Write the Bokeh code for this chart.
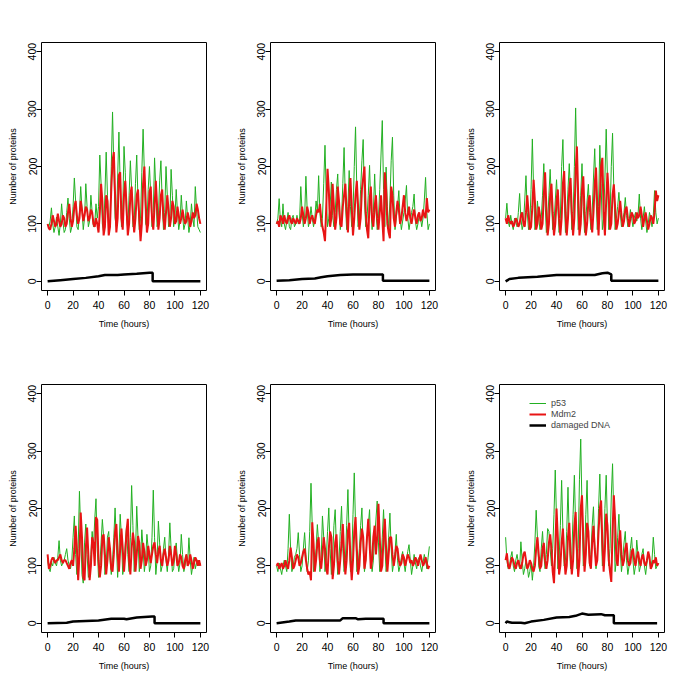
from bokeh.plotting import figure
from bokeh.layouts import row, column
from bokeh.models import Range1d, FixedTicker, Legend, LegendItem
from bokeh.embed import file_html
from bokeh.resources import INLINE

X_TICKS = [0, 20, 40, 60, 80, 100, 120]
Y_TICKS = [0, 100, 200, 300, 400]
X_LABEL = "Time (hours)"
Y_LABEL = "Number of proteins"
SERIES_NAMES = ["p53", "Mdm2", "damaged DNA"]

P53_1 = [100,95,105,128,100,85,95,112,95,80,
         100,135,105,85,90,120,145,110,85,95,
         130,180,140,95,90,120,165,125,90,110,
         170,130,95,105,150,120,95,100,135,110,
         130,220,170,100,85,150,225,150,90,100,
         200,295,200,110,95,180,260,170,95,120,
         235,190,110,90,150,210,160,95,100,170,
         220,140,90,110,190,265,190,100,95,160,
         200,150,95,120,215,160,95,110,175,210,
         140,90,120,200,150,95,100,195,150,95,
         110,160,120,90,105,150,115,90,100,140,
         110,85,100,135,110,95,165,125,95,90,
         85]
MDM2_1 = [100,92,90,100,115,105,95,100,118,105,
          95,100,115,110,95,100,120,135,110,95,
          105,130,140,115,100,110,140,125,105,115,
          130,125,105,110,125,120,100,95,110,100,
          85,120,170,140,80,95,150,140,80,95,
          160,210,225,150,85,110,185,190,110,90,
          150,175,130,80,100,150,165,115,85,110,
          150,160,110,70,100,170,200,140,85,100,
          155,165,110,90,130,175,130,90,110,150,
          160,110,90,120,150,125,95,110,140,130,
          100,105,130,115,100,110,125,110,100,105,
          120,110,95,105,120,110,115,135,125,110,
          100]
DNA_T_1 = [0, 5, 10, 20, 30, 40, 45, 55, 60, 70, 80, 82.5, 82.5, 120]
DNA_V_1 = [0, 1, 2, 4, 6, 9, 11, 11, 12, 13, 15, 15, 0, 0]

P53_2 = [100,110,144,105,95,135,100,90,105,120,
         95,90,110,115,95,100,115,100,105,165,
         120,95,110,183,125,95,105,130,110,95,
         110,140,120,184,120,95,110,170,237,150,
         95,110,130,173,115,95,120,160,187,120,
         90,110,170,233,140,90,130,193,130,95,
         120,200,269,160,95,110,160,210,247,140,
         95,110,150,202,130,90,120,187,125,90,
         110,160,220,280,160,95,199,130,90,140,
         210,251,150,90,110,130,158,110,90,105,
         120,140,167,110,90,105,120,130,152,105,
         90,100,115,110,95,110,140,181,120,90,
         100]
MDM2_2 = [100,105,95,115,110,100,115,105,100,110,
          115,105,100,110,105,100,110,105,100,110,
          130,115,100,110,130,120,100,110,115,105,
          100,115,125,120,135,110,95,85,70,130,
          196,160,95,110,170,130,90,110,165,140,
          100,95,130,150,170,120,85,140,180,130,
          80,110,150,175,130,90,110,160,180,200,
          120,90,75,140,165,110,95,130,150,110,
          90,120,150,110,70,190,160,100,85,75,
          165,150,110,95,120,140,125,100,110,130,
          150,120,105,115,130,110,100,115,125,110,
          100,115,120,105,110,125,115,110,145,120,
          125]
DNA_T_2 = [0, 10, 20, 30, 35, 40, 50, 60, 83.5, 83.5, 120]
DNA_V_2 = [1, 2, 4, 5, 7, 9, 11, 12, 12, 1, 1]

P53_3 = [110,136,105,95,115,100,90,110,105,95,
         120,153,110,90,100,140,184,120,90,100,
         160,248,160,90,100,140,110,90,110,150,
         205,140,85,100,150,195,140,90,100,140,
         177,130,85,110,200,247,150,85,110,160,
         205,150,90,110,200,302,190,90,100,150,
         205,130,85,110,140,169,120,90,120,180,
         231,150,90,130,237,170,90,110,180,265,
         180,90,110,200,258,160,90,110,130,155,
         120,95,105,120,146,115,95,105,125,110,
         95,110,120,105,115,152,110,90,110,130,
         105,85,100,120,110,95,115,158,120,100,
         110]
MDM2_3 = [110,100,115,105,100,105,95,100,110,105,
          95,100,115,120,100,95,120,150,120,90,
          95,130,177,140,90,100,130,115,90,100,
          150,190,130,80,100,150,170,120,80,100,
          140,160,110,80,110,170,192,120,80,110,
          160,180,120,80,110,190,235,150,80,100,
          160,183,120,80,100,140,150,110,85,120,
          170,198,130,80,140,200,215,120,80,140,
          189,150,90,100,150,169,130,90,100,120,
          140,115,95,105,125,130,110,95,110,120,
          115,100,105,120,110,115,130,115,95,110,
          120,105,90,100,115,110,100,120,158,140,
          150]
DNA_T_3 = [0, 3, 10, 25, 40, 70, 76, 80, 83, 83, 120]
DNA_V_3 = [0, 4, 6, 8, 11, 11, 14, 15, 12, 1, 1]

P53_4 = [110,95,90,105,100,115,105,100,115,144,
         110,100,105,110,120,130,110,100,95,110,
         150,187,120,85,130,230,160,85,70,140,
         173,120,80,90,120,160,130,180,217,130,
         80,100,140,181,150,85,100,150,160,110,
         85,110,150,201,140,80,120,190,150,85,
         100,140,169,120,90,150,240,170,90,120,
         204,150,90,110,163,130,90,110,155,130,
         90,100,150,232,150,85,110,178,140,90,
         100,130,150,110,90,120,175,130,90,95,
         120,140,110,90,105,155,120,90,100,120,
         105,149,110,85,100,115,95,105,110,100,
         105]
MDM2_4 = [120,95,100,110,115,110,105,110,110,115,
          120,110,105,110,110,105,100,95,105,110,
          100,130,170,130,75,120,193,150,80,75,
          130,167,120,75,100,150,140,100,185,180,
          110,80,100,150,155,120,85,110,150,130,
          95,90,120,160,173,120,90,130,165,130,
          90,120,160,182,110,85,130,158,140,90,
          120,152,140,95,110,140,125,100,110,135,
          120,105,120,135,141,120,105,125,135,110,
          100,120,130,115,100,110,135,120,100,110,
          135,120,100,105,120,115,100,95,110,120,
          100,105,120,110,95,105,115,110,100,110,
          100]
DNA_T_4 = [0, 15, 20, 40, 50, 60, 62, 70, 82, 84, 84, 120]
DNA_V_4 = [0, 1, 3, 5, 8, 8, 7, 10, 12, 12, 0, 0]

P53_5 = [100,90,105,95,85,100,110,100,90,130,
         190,130,90,100,115,120,130,158,120,90,
         100,130,158,120,90,110,160,244,170,90,
         100,130,172,140,90,110,187,150,90,110,
         160,201,130,85,110,170,198,130,85,110,
         160,204,130,90,110,170,233,150,90,110,
         190,262,170,90,100,130,170,201,130,90,
         110,150,170,198,130,90,110,150,180,213,
         140,90,110,150,198,140,90,110,150,192,
         130,90,105,125,155,110,90,100,115,125,
         105,90,110,125,137,110,85,100,120,105,
         95,110,115,100,90,105,120,110,95,115,
         134]
MDM2_5 = [100,105,95,100,105,95,100,110,100,95,
          110,132,115,95,100,110,120,115,100,105,
          115,125,130,110,95,85,90,75,176,140,
          90,110,140,150,110,95,120,150,130,95,
          85,130,160,150,77,100,140,155,110,85,
          110,140,173,120,85,110,160,175,110,75,
          110,160,185,130,85,100,140,165,150,95,
          110,150,182,140,95,110,150,170,120,150,
          208,150,90,100,150,182,130,90,120,150,
          150,120,100,115,135,130,110,100,105,120,
          115,100,110,120,115,105,110,100,105,115,
          110,100,110,120,110,100,105,115,105,95,
          100]
DNA_T_5 = [0, 10, 15, 50, 52, 62, 64, 70, 84, 84, 120]
DNA_V_5 = [0, 3, 5, 5, 9, 9, 7, 8, 8, 0, 0]

P53_6 = [150,110,95,100,115,125,100,90,110,120,
         105,95,142,110,85,95,110,100,80,90,
         105,75,100,140,197,150,100,90,130,160,
         120,95,120,165,160,130,100,130,190,267,
         180,95,110,170,249,160,100,110,160,237,
         150,95,120,190,258,170,95,130,250,321,
         200,100,110,190,249,150,100,120,170,203,
         140,95,120,200,260,180,100,120,200,258,
         170,100,130,220,278,180,90,110,150,190,
         130,90,110,140,160,110,85,100,130,150,
         110,85,100,145,120,90,100,120,130,100,
         85,105,120,110,95,110,150,120,95,100,
         105]
MDM2_6 = [110,122,100,95,105,115,110,100,95,105,
          110,100,95,105,120,125,110,95,100,110,
          105,95,90,100,130,150,120,95,100,130,
          140,110,95,110,140,155,130,90,70,130,
          200,150,85,100,140,165,120,85,100,150,
          175,120,85,110,170,194,130,81,110,200,
          223,150,90,120,175,160,105,95,140,170,
          130,100,110,160,200,214,140,90,130,191,
          170,110,90,72,160,223,180,110,100,140,
          162,120,100,110,130,140,110,100,105,125,
          130,110,100,115,125,110,100,115,120,105,
          100,110,125,115,95,100,110,105,115,100,
          105]
DNA_T_6 = [0, 1, 3, 5, 12, 15, 20, 30, 40, 50, 55, 60, 65, 75, 78, 85, 85, 119]
DNA_V_6 = [0, 3, 2, 1, 1, 0, 3, 6, 10, 11, 13, 17, 15, 16, 14, 14, 0, 0]

GREEN = "#22b022"
RED = "#e81414"
BLACK = "#000000"
FONT = "Liberation Sans"

FRAME_W, FRAME_H = 165, 248


def make_panel(p53, mdm2, dna_t, dna_v, right_border, bottom_border, legend=False):
    p = figure(frame_width=FRAME_W, frame_height=FRAME_H,
               x_range=Range1d(-4.8, 124.8), y_range=Range1d(-16, 416),
               output_backend="svg", toolbar_location=None,
               min_border_left=41, min_border_right=right_border,
               min_border_top=42, min_border_bottom=bottom_border)
    p.background_fill_color = "white"
    p.border_fill_color = "white"
    p.outline_line_color = "black"
    p.outline_line_width = 1
    p.outline_line_alpha = 1
    p.xgrid.visible = False
    p.ygrid.visible = False

    for ax in (p.xaxis[0], p.yaxis[0]):
        ax.axis_line_color = None
        ax.major_tick_in = 0
        ax.major_tick_out = 5
        ax.major_tick_line_color = "black"
        ax.minor_tick_line_color = None
        ax.major_label_text_font = FONT
        ax.major_label_text_font_size = "10.5px"
        ax.major_label_text_color = "black"
        ax.axis_label_text_font = FONT
        ax.axis_label_text_font_size = "9px"
        ax.axis_label_text_font_style = "normal"
        ax.axis_label_text_color = "black"

    p.xaxis.ticker = FixedTicker(ticks=X_TICKS)
    p.yaxis.ticker = FixedTicker(ticks=Y_TICKS)
    p.xaxis.axis_label = X_LABEL
    p.yaxis.axis_label = Y_LABEL
    p.yaxis.major_label_orientation = "vertical"
    p.xaxis.major_label_standoff = 5
    p.xaxis.axis_label_standoff = 7
    p.yaxis.major_label_standoff = 0
    p.yaxis.axis_label_standoff = 8

    r1 = p.line(list(range(len(p53))), p53, line_color=GREEN, line_width=1)
    r2 = p.line(list(range(len(mdm2))), mdm2, line_color=RED, line_width=2)
    r3 = p.line(dna_t, dna_v, line_color=BLACK, line_width=2.5)

    if legend:
        items = [LegendItem(label=SERIES_NAMES[0], renderers=[r1]),
                 LegendItem(label=SERIES_NAMES[1], renderers=[r2]),
                 LegendItem(label=SERIES_NAMES[2], renderers=[r3])]
        lg = Legend(items=items, location=(30, 202),
                    border_line_color=None, background_fill_alpha=0,
                    glyph_width=17, glyph_height=10, label_height=10,
                    label_text_font=FONT, label_text_font_size="9px",
                    label_standoff=5, spacing=1, padding=0, margin=0)
        p.add_layout(lg, "center")
    return p


p1 = make_panel(P53_1, MDM2_1, DNA_T_1, DNA_V_1, 23, 52)
p2 = make_panel(P53_2, MDM2_2, DNA_T_2, DNA_V_2, 23, 52)
p3 = make_panel(P53_3, MDM2_3, DNA_T_3, DNA_V_3, 20, 52)
p4 = make_panel(P53_4, MDM2_4, DNA_T_4, DNA_V_4, 23, 50)
p5 = make_panel(P53_5, MDM2_5, DNA_T_5, DNA_V_5, 23, 50)
p6 = make_panel(P53_6, MDM2_6, DNA_T_6, DNA_V_6, 20, 50, legend=True)

layout = column(row(p1, p2, p3), row(p4, p5, p6))

open("out.html", "w").write(file_html(layout, INLINE))
